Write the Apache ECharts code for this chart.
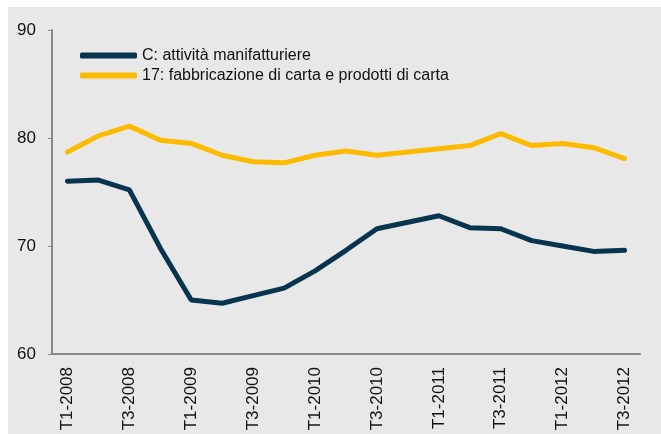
<!DOCTYPE html>
<html>
<head>
<meta charset="utf-8">
<script src="https://cdn.jsdelivr.net/npm/echarts@6/dist/echarts.min.js"></script>
<style>
  html, body { margin: 0; padding: 0; background: #fff; }
  #chart { width: 661px; height: 434px; }
</style>
</head>
<body>
<div id="chart"></div>
<script>
var quarters = ['T1-2008', 'T2-2008', 'T3-2008', 'T4-2008',
    'T1-2009', 'T2-2009', 'T3-2009', 'T4-2009',
    'T1-2010', 'T2-2010', 'T3-2010', 'T4-2010',
    'T1-2011', 'T2-2011', 'T3-2011', 'T4-2011',
    'T1-2012', 'T2-2012', 'T3-2012'];
var manifattura = [76.0, 76.1, 75.2, 69.8, 65.0, 64.7, 65.4, 66.1, 67.7, 69.6,
    71.6, 72.2, 72.8, 71.7, 71.6, 70.5, 70.0, 69.5, 69.6];
var carta = [78.7, 80.2, 81.1, 79.8, 79.5, 78.4, 77.8, 77.7, 78.4, 78.8,
    78.4, 78.7, 79.0, 79.3, 80.4, 79.3, 79.5, 79.1, 78.1];
var nomi = ['C: attività manifatturiere', '17: fabbricazione di carta e prodotti di carta'];

var font = '"Liberation Sans", Arial, Helvetica, sans-serif';
var myChart = echarts.init(document.getElementById('chart'));
var option = {
    animation: false,
    backgroundColor: '#ffffff',
    textStyle: { fontFamily: font },
    graphic: [{
        type: 'rect',
        z: -10,
        shape: { x: 8, y: 7, width: 653, height: 427 },
        style: { fill: '#e8e8e8' }
    }],
    color: ['#07344f', '#fcbb00'],
    legend: {
        orient: 'vertical',
        left: 75,
        top: 42,
        itemWidth: 57,
        itemHeight: 6,
        itemGap: 3,
        icon: 'roundRect',
        textStyle: { fontFamily: font, fontSize: 16, color: '#111', lineHeight: 17 },
        data: nomi
    },
    grid: { left: 52, right: 21, top: 30, bottom: 80 },
    xAxis: {
        type: 'category',
        boundaryGap: true,
        data: quarters,
        axisLine: { lineStyle: { color: '#888', width: 2 } },
        axisTick: { alignWithLabel: true, interval: 0, length: 4, lineStyle: { color: '#888', width: 1 } },
        axisLabel: { interval: 1, rotate: 90, margin: 13, fontSize: 17, color: '#111', fontFamily: font }
    },
    yAxis: {
        type: 'value',
        min: 60,
        max: 90,
        interval: 10,
        axisLine: { show: true, lineStyle: { color: '#888', width: 2 } },
        axisTick: { show: true, length: 4, lineStyle: { color: '#888', width: 1 } },
        axisLabel: { margin: 16, fontSize: 17, color: '#111', fontFamily: font },
        splitLine: { show: false }
    },
    series: [{
        name: nomi[0],
        type: 'line',
        symbol: 'none',
        lineStyle: { width: 5, cap: 'round' },
        data: manifattura
    }, {
        name: nomi[1],
        type: 'line',
        symbol: 'none',
        lineStyle: { width: 5, cap: 'round' },
        data: carta
    }]
};
myChart.setOption(option);
</script>
</body>
</html>
